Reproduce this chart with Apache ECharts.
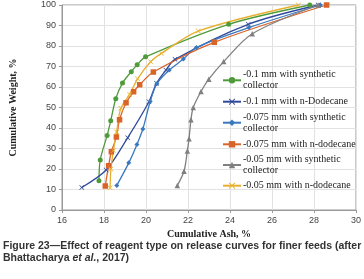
<!DOCTYPE html>
<html>
<head>
<meta charset="utf-8">
<script src="https://cdn.jsdelivr.net/npm/echarts@6/dist/echarts.min.js"></script>
<style>
  html, body { margin: 0; padding: 0; background: #fff; }
  #chart { width: 364px; height: 279px; }
</style>
</head>
<body>
<div id="chart"></div>
<script>
var dom = document.getElementById("chart");
var chart = echarts.init(dom);

// [cumulative ash %, cumulative weight %]
var synth01 = [[17.76,14.3],[17.82,24.4],[18.15,36.4],[18.32,43.5],[18.56,54.3],[18.88,61.9],[19.3,67.5],[19.58,70.9],[19.98,74.7],[23.94,90.6],[27.8,100]];
var dode01 = [[16.94,11],[18.1,19.5],[19.13,35.3],[20.14,52.8],[20.5,61.8],[20.95,68.3],[21.38,73.5],[24.87,90.6],[28.2,100]];
var synth0075 = [[18.61,12],[19.18,23],[19.57,32],[19.85,39.5],[20.2,52.9],[20.52,61.6],[21.11,68.3],[21.78,73.6],[22.4,79.3],[24.9,89],[28.3,100]];
var dode0075 = [[18.06,11.7],[18.22,21.6],[18.35,28.4],[18.59,35.6],[18.74,44],[19.05,52.3],[19.41,57.7],[19.7,61.1],[20.35,67.3],[23.25,81.8],[28.6,100]];
var synth005 = [[21.49,11.9],[21.81,18.9],[21.97,28.8],[22.05,34.8],[22.14,44],[22.25,50],[22.62,57.8],[22.99,63.8],[23.7,72.4],[25.06,86],[28.2,100]];
var dode005 = [[18.29,10.9],[18.33,20],[18.45,29],[18.6,38],[18.8,49.6],[19.22,56.4],[19.6,64],[20.22,72.3],[20.73,76.4],[22.49,87.3],[27.26,100]];

var seriesNames = [
  '-0.1 mm with synthetic\ncollector',
  '-0.1 mm with n-Dodecane',
  '-0.075 mm with synthetic\ncollector',
  '-0.075 mm with n-dodecane',
  '-0.05 mm with synthetic\ncollector',
  '-0.05 mm with n-dodecane'
];
var seriesData = [synth01, dode01, synth0075, dode0075, synth005, dode005];
var colors = ['#4f9b3a', '#2f4a9a', '#3a78c0', '#d9642a', '#808080', '#e8b030'];
var cross = 'path://M0,1L1,0L5,4L9,0L10,1L6,5L10,9L9,10L5,6L1,10L0,9L4,5Z';
var symbols = ['circle', cross, 'diamond', 'rect', 'triangle', cross];
var symbolSizes = [5, 5, 5, 5.5, 5.5, 5];
var legendTops = [63.8, 96.2, 106.2, 138.8, 148.5, 180.2];

var series = seriesData.map(function(d, i) {
  return {
    name: seriesNames[i],
    type: 'line',
    data: d,
    smooth: 0.3,
    symbol: symbols[i],
    symbolSize: symbolSizes[i],
    showSymbol: true,
    lineStyle: { color: colors[i], width: 1.3 },
    itemStyle: { color: colors[i] }
  };
});

var legends = seriesNames.map(function(name, i) {
  var twoLine = name.indexOf('\n') >= 0;
  return {
    orient: 'vertical',
    left: 222,
    top: legendTops[i],
    padding: 0,
    itemWidth: 18,
    itemHeight: 8,
    data: [name],
    textStyle: {
      fontFamily: 'Liberation Serif',
      fontSize: 10,
      color: '#222',
      lineHeight: 11,
      padding: twoLine ? [11, 0, 0, -3] : [0, 0, 0, -3]
    }
  };
});

option = {
  animation: false,
  color: colors,
  title: {
    text: 'Figure 23\u2014Effect of reagent type on release curves for finer feeds (after\n{n|Bhattacharya }{i|et al.}{n|, 2017)}',
    left: 3,
    top: 240,
    padding: 0,
    textStyle: {
      fontFamily: 'Liberation Sans Narrow, Liberation Sans',
      fontSize: 10.5,
      fontWeight: 'bold',
      color: '#333',
      lineHeight: 12,
      rich: {
        n: { fontFamily: 'Liberation Sans Narrow, Liberation Sans', fontSize: 10.5, fontWeight: 'bold', color: '#333', lineHeight: 12 },
        i: { fontFamily: 'Liberation Sans Narrow, Liberation Sans', fontSize: 10.5, fontWeight: 'bold', fontStyle: 'italic', color: '#333', lineHeight: 12 }
      }
    }
  },
  legend: legends,
  grid: {
    left: 62,
    right: 8,
    top: 5,
    bottom: 69,
    show: true,
    borderColor: '#999',
    borderWidth: 1
  },
  xAxis: {
    type: 'value',
    min: 16,
    max: 30,
    interval: 2,
    name: 'Cumulative Ash, %',
    nameLocation: 'middle',
    nameGap: 16,
    nameTextStyle: { fontFamily: 'Liberation Serif', fontSize: 10, fontWeight: 'bold', color: '#222' },
    axisLine: { lineStyle: { color: '#999' } },
    axisTick: { show: true, lineStyle: { color: '#999' }, length: 3 },
    axisLabel: { fontFamily: 'Liberation Sans', fontSize: 9, color: '#444', margin: 6 },
    splitLine: { lineStyle: { color: '#e2e2e2' } }
  },
  yAxis: {
    type: 'value',
    min: 0,
    max: 100,
    interval: 10,
    name: 'Cumulative Weight, %',
    nameLocation: 'middle',
    nameGap: 44,
    nameTextStyle: { fontFamily: 'Liberation Serif', fontSize: 10, fontWeight: 'bold', color: '#222' },
    axisLine: { show: true, lineStyle: { color: '#999' } },
    axisTick: { show: true, lineStyle: { color: '#999' }, length: 3 },
    axisLabel: { fontFamily: 'Liberation Sans', fontSize: 9, color: '#444', margin: 6 },
    splitLine: { lineStyle: { color: '#e2e2e2' } }
  },
  series: series
};
chart.setOption(option, true);
</script>
</body>
</html>
